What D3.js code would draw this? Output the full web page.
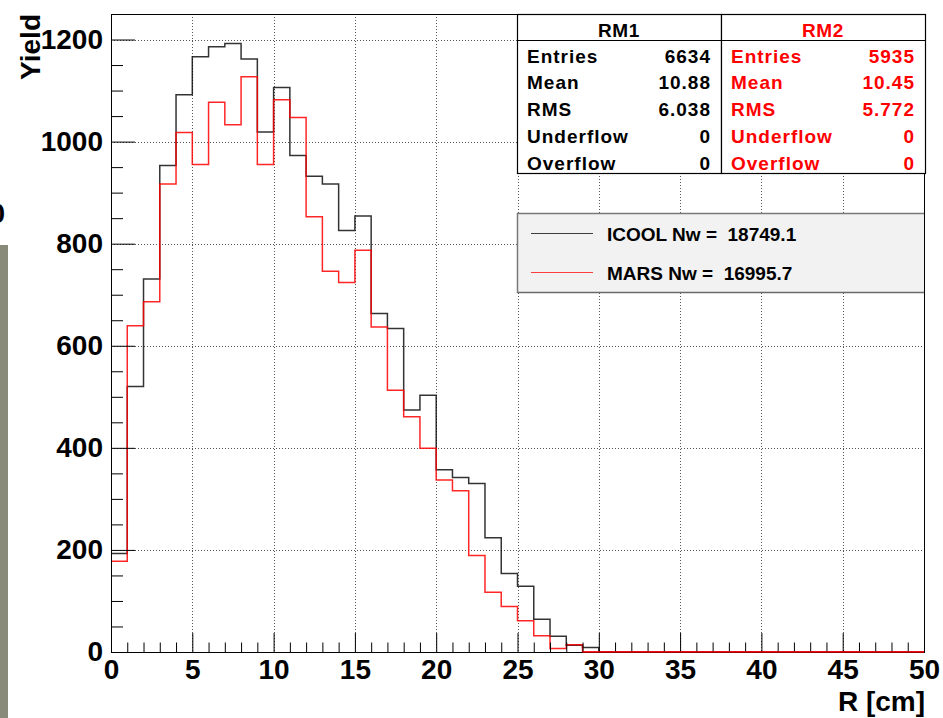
<!DOCTYPE html>
<html>
<head>
<meta charset="utf-8">
<script src="https://cdn.jsdelivr.net/npm/d3@7"></script>
<style>
  html, body { margin: 0; padding: 0; background: #fff; }
  svg { display: block; }
  text { font-family: "Liberation Sans", Arial, Helvetica, sans-serif; font-weight: bold; }
</style>
</head>
<body>
<svg id="chart" width="943" height="718"></svg>
<script>
// Radial distribution of particles, two simulations, 1 cm bins from 0 to 50 cm
const binEdges = d3.range(0, 51);                       // 0..50 cm
const icoolYield = [193, 520, 731, 953, 1092, 1166, 1186, 1192, 1162, 1019,
                    1106, 973, 932, 917, 826, 854, 663, 634, 474, 503,
                    357, 342, 330, 224, 154, 129, 64, 31, 13, 9,
                    0, 0, 0, 0, 0, 0, 0, 0, 0, 0,
                    0, 0, 0, 0, 0, 0, 0, 0, 0, 0];
const marsYield  = [178, 639, 686, 917, 1018, 955, 1077, 1033, 1127, 955,
                    1082, 1047, 853, 746, 724, 787, 637, 513, 461, 399,
                    337, 316, 189, 117, 89, 61, 32, 7, 14, 0,
                    0, 0, 0, 0, 0, 0, 0, 0, 0, 0,
                    0, 0, 0, 0, 0, 0, 0, 0, 0, 0];

const xTicks = d3.range(0, 51, 5);
const yTicks = d3.range(0, 1201, 200);

// Statistics boxes
const statNames = ["Entries", "Mean", "RMS", "Underflow", "Overflow"];
const rm1Values = ["6634", "10.88", "6.038", "0", "0"];
const rm2Values = ["5935", "10.45", "5.772", "0", "0"];
const statTitles = ["RM1", "RM2"];

// Legend
const legendLabels = ["ICOOL Nw =  18749.1", "MARS Nw =  16995.7"];
const seriesColors = ["#000000", "#ff0000"];

const svg = d3.select("#chart");

const frame = { left: 111, right: 924, top: 14, bottom: 652 };
const x = d3.scaleLinear().domain([0, 50]).range([frame.left, frame.right]);
const y = d3.scaleLinear().domain([0, 1250]).range([frame.bottom, frame.top]);

// Stray pieces at the left page edge
svg.append("rect").attr("x", 0).attr("y", 245).attr("width", 8).attr("height", 473)
  .attr("fill", "#8a8a7b");
svg.append("text").attr("x", 5).attr("y", 223).attr("text-anchor", "end")
  .attr("font-size", 28).attr("fill", "#000").text("0");

// Dotted grid
const grid = svg.append("g").attr("stroke", "#555").attr("stroke-width", 1)
  .attr("stroke-dasharray", "1,2").attr("fill", "none");
grid.selectAll("line.gx").data(xTicks.filter(d => d > 0 && d < 50)).join("line")
  .attr("x1", d => Math.round(x(d)) + 0.5).attr("x2", d => Math.round(x(d)) + 0.5)
  .attr("y1", frame.top).attr("y2", frame.bottom);
grid.selectAll("line.gy").data(yTicks.filter(d => d > 0)).join("line")
  .attr("y1", d => Math.round(y(d)) + 0.5).attr("y2", d => Math.round(y(d)) + 0.5)
  .attr("x1", frame.left).attr("x2", frame.right);

// Histogram outlines
const step = d3.line().curve(d3.curveStepAfter).x(d => x(d[0])).y(d => y(d[1]));
function outline(values) {
  const pts = values.map((v, i) => [binEdges[i], v]);
  pts.push([binEdges[values.length], values[values.length - 1]]);
  return pts;
}
svg.append("path").attr("d", step(outline(icoolYield)))
  .attr("fill", "none").attr("stroke", seriesColors[0]).attr("stroke-width", 1.5)
  .attr("stroke-opacity", 0.8);
svg.append("path").attr("d", step(outline(marsYield)))
  .attr("fill", "none").attr("stroke", seriesColors[1]).attr("stroke-width", 1.5)
  .attr("stroke-opacity", 0.85);

// Axes with inward ticks
const xAxis = d3.axisBottom(x).tickValues(xTicks).tickFormat(d3.format("d"))
  .tickSizeInner(-19).tickSizeOuter(0).tickPadding(7);
const xMinor = d3.axisBottom(x).tickValues(d3.range(0, 51).filter(d => d % 5 !== 0))
  .tickFormat("").tickSizeInner(-9.5).tickSizeOuter(0);
const yAxis = d3.axisLeft(y).tickValues(yTicks).tickFormat(d3.format("d"))
  .tickSizeInner(-24).tickSizeOuter(0).tickPadding(8);
const yMinor = d3.axisLeft(y).tickValues(d3.range(0, 1251, 50).filter(d => d % 200 !== 0))
  .tickFormat("").tickSizeInner(-12).tickSizeOuter(0);

function styleAxis(g) {
  g.selectAll(".domain").remove();
  g.selectAll("line").attr("stroke", "#000").attr("stroke-width", 1);
  g.selectAll("text").attr("font-size", 28).attr("fill", "#000")
    .attr("font-family", "'Liberation Sans', Arial, sans-serif").attr("font-weight", "bold");
}
svg.append("g").attr("transform", `translate(0,${frame.bottom})`).call(xAxis).call(styleAxis);
svg.append("g").attr("transform", `translate(0,${frame.bottom})`).call(xMinor).call(styleAxis);
svg.append("g").attr("transform", `translate(${frame.left},0)`).call(yAxis).call(styleAxis);
svg.append("g").attr("transform", `translate(${frame.left},0)`).call(yMinor).call(styleAxis);

// Frame
svg.append("rect").attr("x", frame.left + 0.5).attr("y", frame.top + 0.5)
  .attr("width", frame.right - frame.left).attr("height", frame.bottom - frame.top)
  .attr("fill", "none").attr("stroke", "#000").attr("stroke-width", 1);
// Red baseline drawn last along the empty tail
svg.append("line").attr("x1", x(29)).attr("x2", x(50)).attr("y1", y(0)).attr("y2", y(0))
  .attr("stroke", seriesColors[1]).attr("stroke-width", 1.5).attr("stroke-opacity", 0.85);

// Axis titles
svg.append("text").attr("x", frame.right + 1).attr("y", 711).attr("text-anchor", "end")
  .attr("font-size", 28).attr("fill", "#000").text("R [cm]");
svg.append("text").attr("transform", "translate(40,14) rotate(-90)").attr("text-anchor", "end")
  .attr("font-size", 28).attr("fill", "#000").text("Yield");

// Statistics boxes
const boxes = [
  { x0: 517, x1: 721, title: statTitles[0], values: rm1Values, color: "#000" },
  { x0: 721, x1: 925, title: statTitles[1], values: rm2Values, color: "#ff0000" }
];
const rowBase = [62.5, 89, 116, 143, 169.5];
boxes.forEach(b => {
  const g = svg.append("g");
  g.append("rect").attr("x", b.x0 + 0.5).attr("y", 14.5).attr("width", b.x1 - b.x0)
    .attr("height", 159).attr("fill", "#fff").attr("stroke", "#000").attr("stroke-width", 1.2);
  g.append("line").attr("x1", b.x0).attr("x2", b.x1).attr("y1", 40.5).attr("y2", 40.5)
    .attr("stroke", "#000").attr("stroke-width", 1.2);
  g.append("text").attr("x", (b.x0 + b.x1) / 2).attr("y", 37).attr("text-anchor", "middle")
    .attr("font-size", 19).attr("letter-spacing", 0.6).attr("fill", b.color).text(b.title);
  statNames.forEach((name, i) => {
    g.append("text").attr("x", b.x0 + 10).attr("y", rowBase[i])
      .attr("font-size", 19).attr("letter-spacing", 1).attr("fill", b.color).text(name);
    g.append("text").attr("x", b.x1 - 10).attr("y", rowBase[i]).attr("text-anchor", "end")
      .attr("font-size", 19).attr("letter-spacing", 1).attr("fill", b.color).text(b.values[i]);
  });
});

// Legend
const lg = svg.append("g");
lg.append("rect").attr("x", 517).attr("y", 213).attr("width", 407).attr("height", 80)
  .attr("fill", "#f2f2f2");
lg.append("line").attr("x1", 517).attr("x2", 924).attr("y1", 213.5).attr("y2", 213.5)
  .attr("stroke", "#7a7a7a").attr("stroke-width", 1.5);
lg.append("line").attr("x1", 517).attr("x2", 924).attr("y1", 292.5).attr("y2", 292.5)
  .attr("stroke", "#6a6a6a").attr("stroke-width", 1.5);
lg.append("line").attr("x1", 517.5).attr("x2", 517.5).attr("y1", 213).attr("y2", 293)
  .attr("stroke", "#7a7a7a").attr("stroke-width", 1.5);
const legendY = [233.5, 272.5];
legendLabels.forEach((lab, i) => {
  lg.append("line").attr("x1", 531).attr("x2", 593).attr("y1", legendY[i]).attr("y2", legendY[i])
    .attr("stroke", seriesColors[i]).attr("stroke-width", 1.2).attr("stroke-opacity", 0.75);
  lg.append("text").attr("x", 607).attr("y", legendY[i] + 7).attr("font-size", 19)
    .attr("fill", "#000").style("white-space", "pre").text(lab);
});
</script>
</body>
</html>
